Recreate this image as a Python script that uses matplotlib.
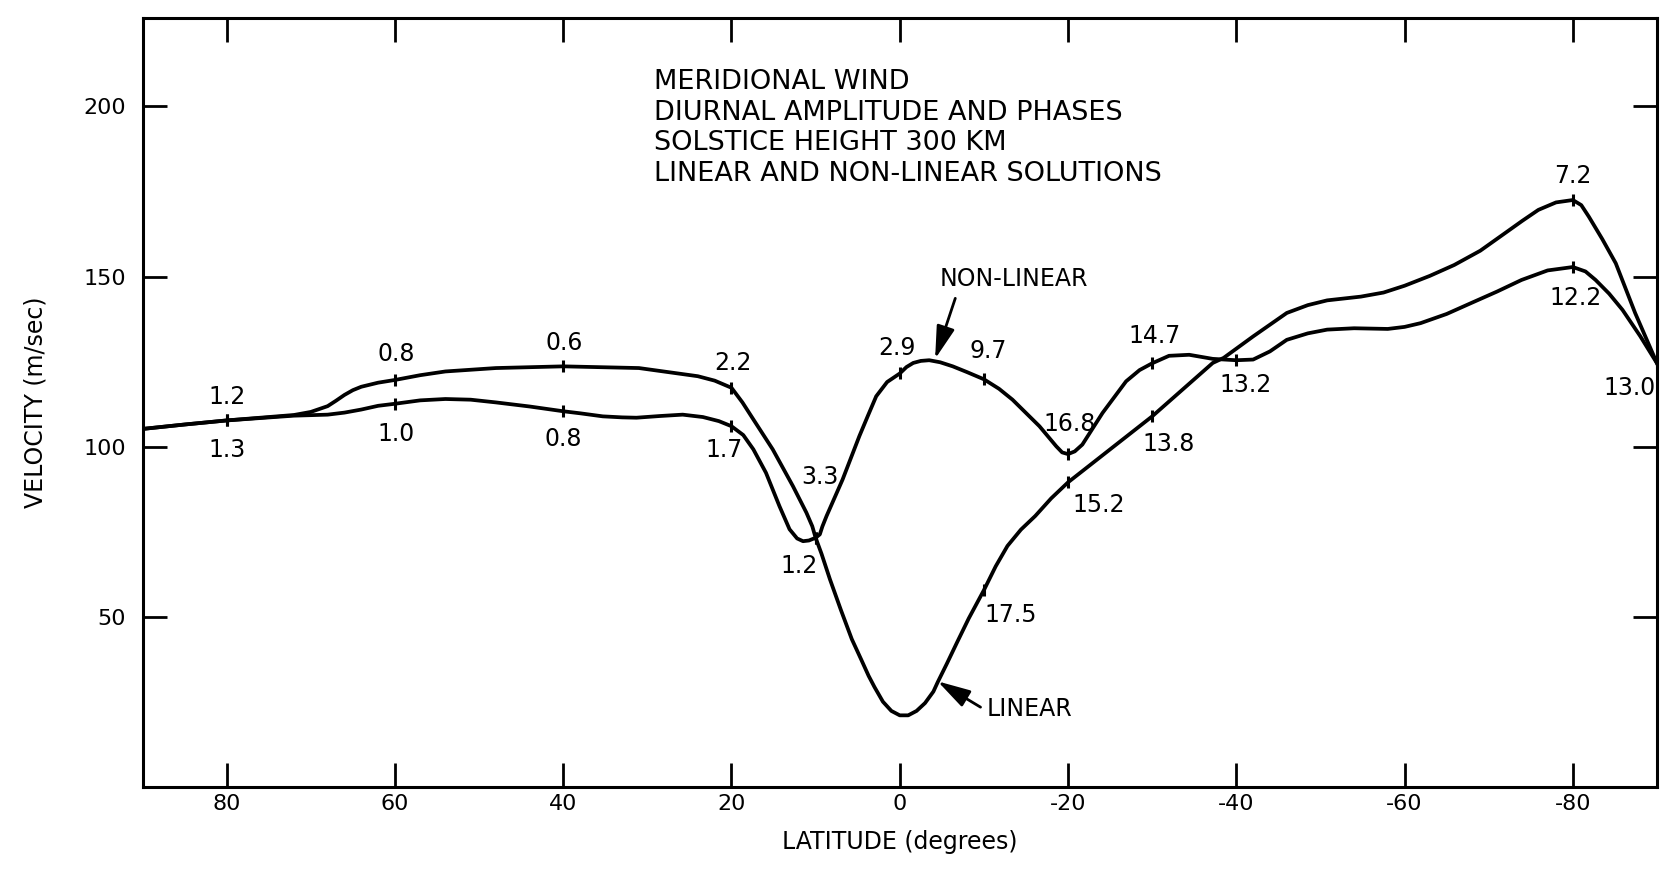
import numpy as np
import matplotlib
matplotlib.use('Agg')
import matplotlib.pyplot as plt

# curves (latitude in degrees, velocity in m/sec)
nonlin_lat = [90, 85, 80, 76, 72, 70, 68, 67, 66, 65, 64, 62, 60, 57, 54, 48, 40, 31, 24, 22,
              20, 18.7, 17.4, 15.1, 12.7, 11.1, 10.4, 10, 9.5, 9.2, 8.7, 6.8, 4.8, 3.8, 2.8,
              1.5, 0, -0.8, -1.6, -2.5, -3.5, -4.8, -6.3, -8, -10, -11.8, -13.4, -16.6,
              -18.6, -19.3, -20, -20.8, -21.7, -24.1, -26.9, -28.5, -30, -32, -34.4, -37.2,
              -40, -42, -44, -46, -48.5, -50.8, -54, -58, -60, -61.9, -65, -67.9, -71, -73.9,
              -77, -80, -81.5, -82.7, -84.3, -85.9, -88, -90]
nonlin_vel = [105.2, 106.5, 107.7, 108.5, 109.3, 110.2, 111.9, 113.5, 115.2, 116.6, 117.6,
              118.8, 119.6, 121.0, 122.1, 123.1, 123.6, 123.1, 120.7, 119.4, 117.3, 113.0,
              108.0, 99.2, 88.4, 80.6, 76.6, 73.2, 74.2, 76.5, 79.6, 90.3, 103.1, 109.0,
              114.8, 119.0, 121.5, 123.4, 124.6, 125.2, 125.4, 124.8, 123.6, 121.9, 119.8,
              117.0, 113.8, 106.0, 100.1, 98.3, 97.8, 98.6, 100.6, 109.9, 119.2, 122.5,
              124.5, 126.7, 127.0, 125.8, 125.4, 125.6, 128.0, 131.4, 133.3, 134.4, 134.8,
              134.6, 135.2, 136.3, 139.0, 142.2, 145.6, 149.0, 151.8, 152.8, 151.5, 149.0,
              145.0, 140.2, 132.5, 124.5]

lin_lat = [90, 85, 80, 76, 72, 68, 66, 64, 62, 60, 57, 54, 51, 48, 44, 40, 38, 35.3, 33,
           31.3, 28.5, 25.8, 23.4, 21.5, 20, 18.6, 17.4, 15.9, 14.3, 13.1, 12.2, 11.5, 10.8,
           10, 9.3, 8.3, 7, 5.7, 4.6, 3.7, 3, 2, 1, 0, -1, -2, -3, -4, -4.5, -5.6, -6.8,
           -8.2, -10, -11.4, -12.8, -14.4, -16.1, -18, -20, -30, -37.2, -38.5, -42, -46,
           -48.5, -50.8, -54.8, -57.5, -60, -63, -65.9, -69, -71.9, -74, -75.9, -78, -80,
           -81, -81.9, -83.5, -85.1, -87.4, -90]
lin_vel = [105.2, 106.5, 107.7, 108.4, 109.1, 109.4, 110.0, 110.9, 112.0, 112.6, 113.6,
           114.0, 113.8, 113.0, 111.8, 110.4, 109.8, 108.9, 108.6, 108.5, 109.0, 109.4,
           108.7, 107.5, 106.0, 103.4, 99.2, 92.3, 82.5, 75.7, 73.0, 72.2, 72.4, 73.2,
           68.5, 61.0, 52.0, 43.4, 37.5, 32.6, 29.3, 25.0, 22.3, 21.0, 21.0, 22.3, 24.6,
           28.0, 30.7, 36.2, 42.4, 49.5, 57.8, 64.8, 70.8, 75.6, 79.6, 84.8, 89.5, 108.9,
           124.6, 126.1, 132.4, 139.3, 141.6, 143.0, 144.1, 145.3, 147.3, 150.2, 153.4,
           157.6, 162.7, 166.4, 169.6, 171.8, 172.5, 171.0, 167.6, 161.0, 153.9, 139.3,
           124.5]

# marked points and their phase labels
nonlin_mark_lat = [80, 60, 40, 20, 10, 0, -10, -20, -30, -40, -80]
nonlin_mark_lbl = ['1.2', '0.8', '0.6', '2.2', '3.3', '2.9', '9.7', '16.8', '14.7', '13.2', '12.2']
lin_mark_lat = [80, 60, 40, 20, 10, -10, -20, -30, -80, -90]
lin_mark_lbl = ['1.3', '1.0', '0.8', '1.7', '1.2', '17.5', '15.2', '13.8', '7.2', '13.0']

xticks = [80, 60, 40, 20, 0, -20, -40, -60, -80]
xticklabels = ['80', '60', '40', '20', '0', '-20', '-40', '-60', '-80']
yticks = [50, 100, 150, 200]

title_lines = ['MERIDIONAL WIND', 'DIURNAL AMPLITUDE AND PHASES',
               'SOLSTICE HEIGHT 300 KM', 'LINEAR AND NON-LINEAR SOLUTIONS']

plt.rcParams['font.family'] = ['DejaVu Sans']

fig = plt.figure(figsize=(16.67, 8.89), dpi=100)
ax = fig.add_axes([0.0855, 0.115, 0.9085, 0.8647])

lw = 2.7
ax.plot(nonlin_lat, nonlin_vel, color='black', lw=lw, solid_joinstyle='round')
ax.plot(lin_lat, lin_vel, color='black', lw=lw, solid_joinstyle='round')

# label offsets in points (x, y)
nl_off = [(0, 17), (1, 19), (1, 17), (1, 18), (3, 44), (-2, 18), (3, 20), (1, 22),
          (2, 20), (7, -18), (2, -22)]
lin_off = [(0, -21), (1, -22), (0, -20), (-5, -17), (-12, -20), (19, -18), (22, -16),
           (12, -20), (0, 17), (-20, -18)]

def mark(lats, lbls, lat_arr, vel_arr, offs):
    for la, lb, off in zip(lats, lbls, offs):
        v = np.interp(la, lat_arr[::-1], vel_arr[::-1])
        ax.plot([la], [v], marker='|', ms=8, mew=2.2, color='black', clip_on=False)
        ax.annotate(lb, xy=(la, v), xytext=off, textcoords='offset points',
                    ha='center', va='center', fontsize=17)

mark(nonlin_mark_lat, nonlin_mark_lbl, nonlin_lat, nonlin_vel, nl_off)
mark(lin_mark_lat, lin_mark_lbl, lin_lat, lin_vel, lin_off)

# curve name arrows
ax.annotate('', xy=(-4.2, 125.8), xytext=(-6.6, 143.6),
            arrowprops=dict(arrowstyle='-|>,head_length=1.0,head_width=0.28', color='black',
                            lw=2, mutation_scale=20, shrinkA=0, shrinkB=0))
ax.text(-4.7, 149.2, 'NON-LINEAR', ha='left', va='center', fontsize=17)
ax.annotate('', xy=(-4.5, 31.0), xytext=(-9.6, 23.4),
            arrowprops=dict(arrowstyle='-|>,head_length=1.0,head_width=0.28', color='black',
                            lw=2, mutation_scale=20, shrinkA=0, shrinkB=0))
ax.text(-10.3, 22.9, 'LINEAR', ha='left', va='center', fontsize=17)

ax.text(0.3377, 0.857, '\n'.join(title_lines), transform=ax.transAxes,
        ha='left', va='center', fontsize=19.5, linespacing=1.22)

ax.set_xlim(90, -90)
ax.set_ylim(0, 226)
ax.set_xticks(xticks)
ax.set_xticklabels(xticklabels)
ax.set_yticks(yticks)
ax.tick_params(axis='both', direction='in', length=17, width=2, labelsize=16,
               top=True, right=True, colors='black')
ax.tick_params(axis='x', pad=5)
ax.tick_params(axis='y', pad=12)
for s in ax.spines.values():
    s.set_linewidth(2.2)

ax.set_xlabel('LATITUDE (degrees)', fontsize=17, labelpad=12)
ax.set_ylabel('VELOCITY (m/sec)', fontsize=17, labelpad=26)

fig.savefig('out.png', dpi=100)
